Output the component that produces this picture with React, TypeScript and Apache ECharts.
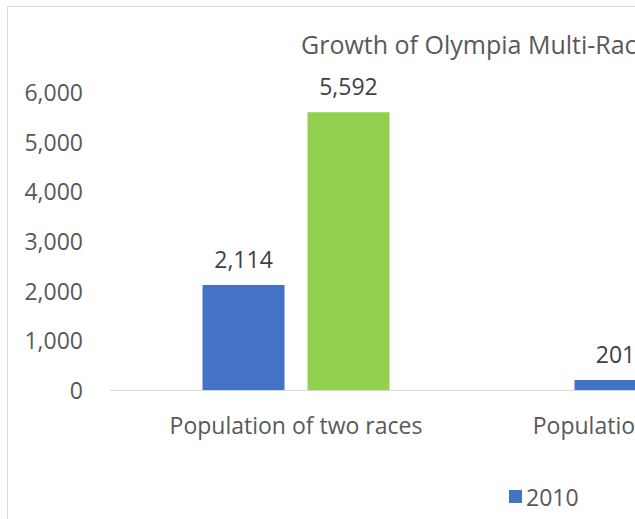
import React, { useEffect, useRef } from "react";
import * as echarts from "echarts";

const titleText = "Growth of Olympia Multi-Racial Population";
const categories = ["Population of two races", "Population of three races"];
const seriesNames = ["2010", "2020"];
const values2010 = [2114, 201];
const values2020 = [5592, 512];
const yTicks = { min: 0, max: 6000, interval: 1000 };

const FONT = "Open Sans";
const TEXT = "#595959";
const FS = 23;

export default function App() {
  const ref = useRef<HTMLDivElement>(null);
  useEffect(() => {
    if (!ref.current) return;
    const chart = echarts.init(ref.current, null, { renderer: "svg" });
    const label = {
      show: true,
      position: "top",
      distance: 15,
      color: "#404040",
      fontFamily: FONT,
      fontSize: FS,
      formatter: (p: any) => Number(p.value).toLocaleString("en-US"),
    };
    chart.setOption({
      animation: false,
      textStyle: { fontFamily: FONT },
      graphic: [
        {
          type: "rect",
          shape: { x: 7.5, y: 6.5, width: 1200, height: 700 },
          style: { fill: "#fff", stroke: "#d9d9d9", lineWidth: 1 },
          z: -10,
        },
      ],
      title: {
        text: titleText,
        left: 301,
        top: 31,
        padding: 0,
        textStyle: { color: TEXT, fontFamily: FONT, fontSize: 25, fontWeight: "normal" },
      },
      legend: {
        data: seriesNames,
        left: 509,
        top: 485,
        padding: 0,
        itemWidth: 13,
        itemHeight: 13,
        itemGap: 70,
        icon: "rect",
        textStyle: { color: TEXT, fontFamily: FONT, fontSize: FS, padding: [0, 0, 0, -1] },
      },
      grid: { left: 110, top: 92, width: 744, height: 298, containLabel: false },
      xAxis: {
        type: "category",
        data: categories,
        axisLine: { lineStyle: { color: "#d9d9d9", width: 1 } },
        axisTick: { show: false },
        axisLabel: { color: TEXT, fontFamily: FONT, fontSize: FS, margin: 23, interval: 0 },
      },
      yAxis: {
        type: "value",
        min: yTicks.min,
        max: yTicks.max,
        interval: yTicks.interval,
        splitLine: { show: false },
        axisLine: { show: false },
        axisTick: { show: false },
        axisLabel: {
          color: TEXT,
          fontFamily: FONT,
          fontSize: FS,
          margin: 27,
          formatter: (v: number) => v.toLocaleString("en-US"),
        },
      },
      series: [
        {
          name: seriesNames[0],
          type: "bar",
          data: values2010,
          itemStyle: { color: "#4472c4" },
          barWidth: 82,
          barGap: "28%",
          label,
        },
        {
          name: seriesNames[1],
          type: "bar",
          data: values2020,
          itemStyle: { color: "#92d050" },
          barWidth: 82,
          barGap: "28%",
          label,
        },
      ],
    });
    return () => chart.dispose();
  }, []);
  return (
    <div style={{ position: "absolute", left: 0, top: 0, width: 635, height: 519, overflow: "hidden", background: "#fff" }}>
      <div ref={ref} style={{ position: "absolute", left: 0, top: 0, width: 1220, height: 560 }} />
    </div>
  );
}
